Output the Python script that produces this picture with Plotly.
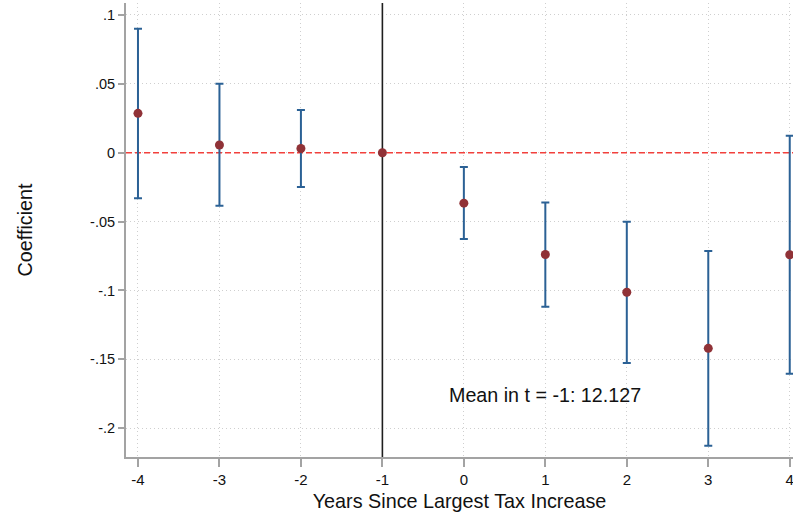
import plotly.graph_objects as go

# Event-study coefficients with 95% confidence intervals
years = [-4, -3, -2, -1, 0, 1, 2, 3, 4]
coef = [0.0286, 0.0056, 0.0031, 0.0, -0.0366, -0.0739, -0.1013, -0.1420, -0.0741]
ci_upper = [0.0900, 0.0500, 0.0310, 0.0, -0.0104, -0.0361, -0.0501, -0.0714, 0.0124]
ci_lower = [-0.0330, -0.0385, -0.0249, 0.0, -0.0627, -0.1119, -0.1526, -0.2127, -0.1604]

y_ticks = [0.1, 0.05, 0.0, -0.05, -0.1, -0.15, -0.2]
y_tick_text = [".1", ".05", "0", "-.05", "-.1", "-.15", "-.2"]
x_ticks = years
note_text = "Mean in t = -1: 12.127"

base_year = -1
x_range = [-4.147, 4.04]
y_range = [-0.2209, 0.1087]

err_plus = [u - c for u, c in zip(ci_upper, coef)]
err_minus = [c - l for c, l in zip(coef, ci_lower)]
has_ci = [u != l for u, l in zip(ci_upper, ci_lower)]

BAR = "#2B6195"
DOT = "#903237"
FONT = "Liberation Sans, Arial, sans-serif"
GRID = "#CFCFCF"
AXIS = "#A3A3A3"

fig = go.Figure()

# zero-effect reference line
fig.add_trace(go.Scatter(
    x=x_range, y=[0, 0], mode="lines",
    line=dict(color="#F2403C", width=1.6, dash="6px,3px"),
    showlegend=False, hoverinfo="skip",
))
# base period marker line
fig.add_trace(go.Scatter(
    x=[base_year, base_year], y=y_range, mode="lines",
    line=dict(color="#1E1E1E", width=1.6),
    showlegend=False, hoverinfo="skip",
))

fig.add_trace(go.Scatter(
    x=[x for x, h in zip(years, has_ci) if h],
    y=[c for c, h in zip(coef, has_ci) if h],
    mode="markers",
    marker=dict(size=0.1, color=BAR, opacity=0),
    error_y=dict(type="data", symmetric=False,
                 array=[e for e, h in zip(err_plus, has_ci) if h],
                 arrayminus=[e for e, h in zip(err_minus, has_ci) if h],
                 color=BAR, thickness=2, width=4),
    showlegend=False, hoverinfo="skip",
))

fig.add_trace(go.Scatter(
    x=years, y=coef, mode="markers",
    marker=dict(size=9, color=DOT),
    showlegend=False,
))

fig.add_annotation(x=1, y=-0.176, xref="x", yref="y", text=note_text,
                   showarrow=False, font=dict(family=FONT, size=19.7, color="#111111"))

fig.update_layout(
    width=793, height=515,
    margin=dict(l=126, r=0, t=3, b=58),
    paper_bgcolor="white", plot_bgcolor="white",
    font=dict(family=FONT, size=14, color="#111111"),
    xaxis=dict(
        range=x_range, tickvals=x_ticks, ticktext=[str(v) for v in x_ticks],
        showgrid=True, gridcolor=GRID, griddash="1px,3px", gridwidth=1,
        showline=True, linecolor=AXIS, linewidth=2, mirror=False,
        ticks="outside", ticklen=8, tickcolor=AXIS, tickwidth=1.5,
        ticklabeloverflow="allow", tickfont=dict(size=15),
        zeroline=False,
        title=dict(text="Years Since Largest Tax Increase", font=dict(size=19.8), standoff=7),
    ),
    yaxis=dict(
        range=y_range, tickvals=y_ticks, ticktext=y_tick_text,
        showgrid=True, gridcolor=GRID, griddash="1px,3px", gridwidth=1,
        showline=True, linecolor=AXIS, linewidth=2, mirror=False,
        ticks="outside", ticklen=6, tickcolor=AXIS, tickwidth=1.5,
        tickfont=dict(size=14.5),
        zeroline=False,
        title=dict(text="Coefficient", font=dict(size=19.8), standoff=52),
    ),
)

fig.write_html("out.html")
